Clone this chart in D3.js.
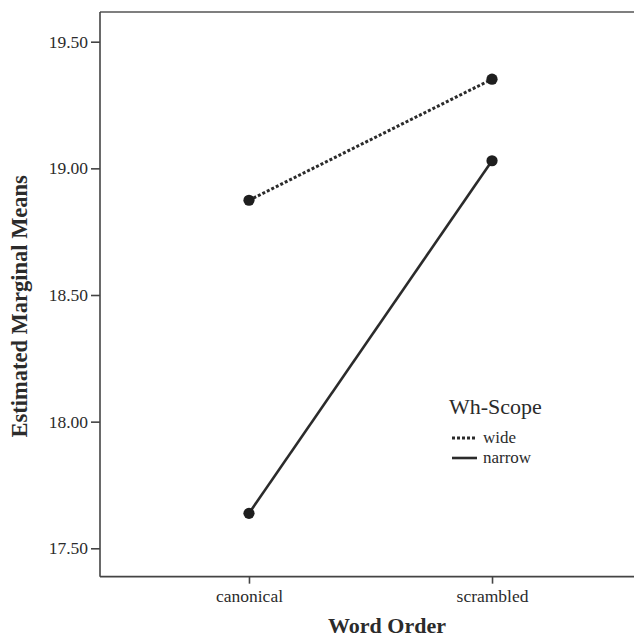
<!DOCTYPE html>
<html><head><meta charset="utf-8">
<script src="https://cdn.jsdelivr.net/npm/d3@7"></script>
<style>body{margin:0;background:#fff;} svg{display:block;}</style>
</head><body>
<script>
const categories = ["canonical", "scrambled"];
const seriesNames = ["wide", "narrow"];
const wideValues = [18.874, 19.352];
const narrowValues = [17.638, 19.03];
const yTicks = [17.5, 18.0, 18.5, 19.0, 19.5];
const yDomain = [17.388, 19.617];

(function(){
const W = 634, H = 639;
const svg = d3.select("body").append("svg").attr("width", W).attr("height", H);
const font = "'Liberation Serif', 'DejaVu Serif', serif";
const ink = "#2b2b2b";

const y = d3.scaleLinear().domain([17.5, 19.5]).range([548.3, 41.7]);
const x = d3.scalePoint().domain(categories).range([100, 641]).padding(0.613);
const yTop = y(yDomain[1]), yBot = y(yDomain[0]);

// frame (left, top, bottom)
svg.append("line").attr("x1",100).attr("x2",W).attr("y1",yTop).attr("y2",yTop).attr("stroke","#555").attr("stroke-width",1.6);
svg.append("line").attr("x1",100).attr("x2",W).attr("y1",yBot).attr("y2",yBot).attr("stroke","#444").attr("stroke-width",1.6);

// y axis
const yAxis = d3.axisLeft(y).tickValues(yTicks).tickFormat(d3.format(".2f")).tickSize(9).tickSizeOuter(0).tickPadding(3);
const gy = svg.append("g").attr("transform","translate(100,0)").call(yAxis);
gy.select(".domain").attr("d", `M0,${yTop}V${yBot}`).attr("stroke","#444").attr("stroke-width",1.6);
gy.selectAll(".tick line").attr("stroke","#444").attr("stroke-width",1.6);
gy.selectAll(".tick text").attr("font-family",font).attr("font-size",17.5).attr("fill",ink);

// x axis
const xAxis = d3.axisBottom(x).tickSize(7).tickSizeOuter(0).tickPadding(6);
const gx = svg.append("g").attr("transform",`translate(0,${yBot})`).call(xAxis);
gx.select(".domain").remove();
gx.selectAll(".tick line").attr("stroke","#444").attr("stroke-width",1.6);
gx.selectAll(".tick text").attr("font-family",font).attr("font-size",17.5).attr("fill",ink);

// axis titles
svg.append("text").attr("x",387).attr("y",633).attr("text-anchor","middle")
  .attr("font-family",font).attr("font-weight","bold").attr("font-size",22).attr("fill",ink).text("Word Order");
svg.append("text").attr("transform",`translate(27,${(yTop+yBot)/2 + 12}) rotate(-90)`).attr("text-anchor","middle")
  .attr("font-family",font).attr("font-weight","bold").attr("font-size",22.5).attr("fill",ink).text("Estimated Marginal Means");

// lines
const line = d3.line().x((d,i)=>x(categories[i])).y(d=>y(d));
svg.append("path").datum(wideValues).attr("d",line).attr("fill","none").attr("stroke",ink).attr("stroke-width",3).attr("stroke-dasharray","3,2");
svg.append("path").datum(narrowValues).attr("d",line).attr("fill","none").attr("stroke",ink).attr("stroke-width",2.6);
[wideValues, narrowValues].forEach(vals=>{
  svg.selectAll(null).data(vals).enter().append("circle")
    .attr("cx",(d,i)=>x(categories[i])).attr("cy",d=>y(d)).attr("r",5.6).attr("fill","#1e1e1e");
});

// legend
svg.append("text").attr("x",449).attr("y",414).attr("font-family",font).attr("font-size",22).attr("fill",ink).text("Wh-Scope");
const leg = [{name:seriesNames[0], dash:"3,2", w:3, y:438},{name:seriesNames[1], dash:null, w:2.6, y:458}];
leg.forEach(l=>{
  svg.append("line").attr("x1",452).attr("x2",477).attr("y1",l.y).attr("y2",l.y).attr("stroke",ink).attr("stroke-width",l.w).attr("stroke-dasharray",l.dash);
  svg.append("text").attr("x",483).attr("y",l.y+5).attr("font-family",font).attr("font-size",17).attr("fill",ink).text(l.name);
});
})();
</script>
</body></html>
